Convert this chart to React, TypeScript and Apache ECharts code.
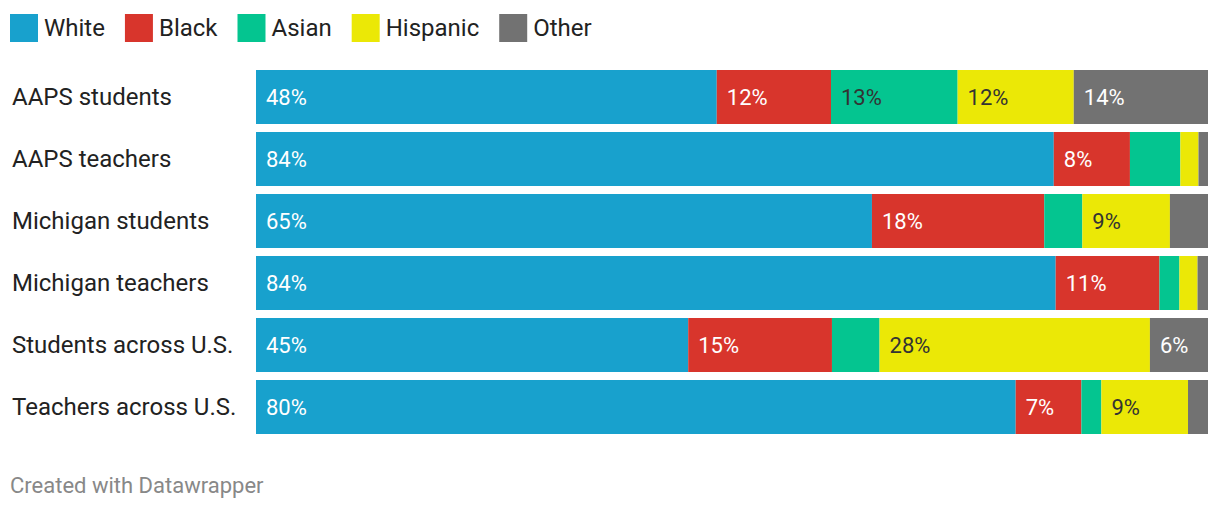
import React, { useEffect, useRef } from "react";
import * as echarts from "echarts";

const categories = [
  "AAPS students",
  "AAPS teachers",
  "Michigan students",
  "Michigan teachers",
  "Students across U.S.",
  "Teachers across U.S.",
];
const seriesNames = ["White", "Black", "Asian", "Hispanic", "Other"];
const white = [48.4, 83.8, 64.7, 84.0, 45.4, 79.8];
const black = [12.0, 8.0, 18.1, 10.9, 15.1, 6.9];
const asian = [13.3, 5.3, 4.0, 2.1, 5.0, 2.1];
const hispanic = [12.2, 1.9, 9.2, 1.9, 28.4, 9.1];
const other = [14.1, 1.0, 4.0, 1.1, 6.1, 2.1];
const colors = ["#18a1cd", "#d8352c", "#04c590", "#ebe806", "#727272"];
const labelColors = ["#ffffff", "#ffffff", "#333333", "#333333", "#ffffff"];

export default function App() {
  const ref = useRef<HTMLDivElement>(null);
  useEffect(() => {
    document.body.style.margin = "0";
    const chart = echarts.init(ref.current!, null, { renderer: "svg" });
    const data = [white, black, asian, hispanic, other];
    chart.setOption({
      animation: false,
      textStyle: { fontFamily: "Roboto" },
      legend: {
        left: 10,
        top: 14,
        padding: 0,
        itemWidth: 28,
        itemHeight: 28,
        itemGap: 20,
        icon: "rect",
        textStyle: { fontSize: 24, color: "#222", fontFamily: "Roboto", padding: [0, 0, 0, 1] },
        data: seriesNames,
      },
      grid: { left: 256, right: 12, top: 66, height: 372, containLabel: false },
      xAxis: {
        type: "value",
        min: 0,
        max: 100,
        show: false,
      },
      yAxis: {
        type: "category",
        data: categories,
        inverse: true,
        axisLine: { show: false },
        axisTick: { show: false },
        splitLine: { show: false },
        axisLabel: {
          align: "left",
          margin: 244,
          fontSize: 24,
          color: "#222",
          fontFamily: "Roboto",
        },
      },
      series: seriesNames.map((name, i) => ({
        name,
        type: "bar",
        stack: "total",
        barWidth: 54,
        data: data[i],
        itemStyle: { color: colors[i] },
        label: {
          show: true,
          position: "insideLeft",
          distance: 10,
          fontSize: 22,
          color: labelColors[i],
          fontFamily: "Roboto",
          formatter: (p: any) => (p.value >= 5.5 ? Math.round(p.value) + "%" : ""),
        },
      })),
      graphic: [
        {
          type: "text",
          left: 10,
          top: 474,
          style: {
            text: "Created with Datawrapper",
            fontSize: 22,
            fill: "#888",
            fontFamily: "Roboto",
          },
        },
      ],
    });
    return () => chart.dispose();
  }, []);
  return <div ref={ref} style={{ width: 1220, height: 510 }} />;
}
